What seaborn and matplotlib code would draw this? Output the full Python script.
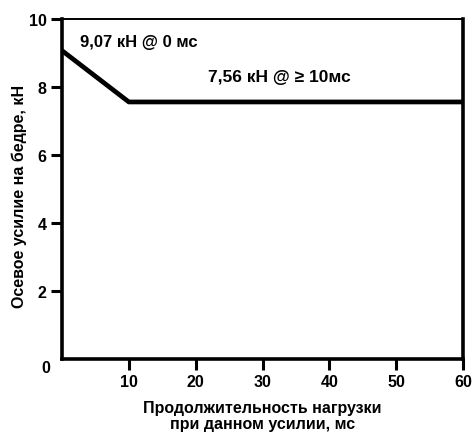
import matplotlib
matplotlib.use("Agg")
import matplotlib.pyplot as plt
import matplotlib.transforms as mtransforms
import seaborn as sns
import pandas as pd

duration_ms = [0, 10, 60]
force_kn = [9.07, 7.56, 7.56]
x_ticks = [10, 20, 30, 40, 50, 60]
y_ticks = [0, 2, 4, 6, 8, 10]
label_start = "9,07 кН @ 0 мс"
label_plateau = "7,56 кН @ ≥ 10мс"
x_label = "Продолжительность нагрузки\nпри данном усилии, мс"
y_label = "Осевое усилие на бедре, кН"

sns.set_theme(style="white")
plt.rcParams['font.family'] = ['Liberation Sans Narrow', 'Liberation Sans', 'DejaVu Sans']
plt.rcParams['font.weight'] = 'bold'
for k in ['text.color', 'axes.labelcolor', 'xtick.color', 'ytick.color']:
    plt.rcParams[k] = 'black'

df = pd.DataFrame({"t": duration_ms, "f": force_kn})

fig = plt.figure(figsize=(4.75, 4.35), dpi=100)
ax = fig.add_axes([62/475, 1-360/435, (463-62)/475, (360-20)/435])
sns.lineplot(data=df, x="t", y="f", ax=ax, color="black", linewidth=3.4)

ax.set_xlim(0, 60)
ax.set_ylim(0, 10)
ax.set_xticks(x_ticks)
ax.set_xticklabels([str(v) for v in x_ticks], fontsize=11.5, fontweight='bold')
ax.set_yticks(y_ticks)
ax.set_yticklabels([str(v) for v in y_ticks], fontsize=11.5, fontweight='bold')
ax.tick_params(axis='both', direction='out', length=8, width=2.2, color='black',
               labelcolor='black', bottom=True, left=True, pad=3)

# the "0" label sits slightly below the corner, without a tick mark
ax.yaxis.get_major_ticks()[0].tick1line.set_visible(False)
zero_lbl = ax.get_yticklabels()[0]
zero_lbl.set_transform(zero_lbl.get_transform() +
                       mtransforms.ScaledTranslation(4/100, -7/100, fig.dpi_scale_trans))

for side in ['left', 'bottom', 'right']:
    ax.spines[side].set_linewidth(2.6)
    ax.spines[side].set_color('black')
ax.spines['top'].set_linewidth(1.4)
ax.spines['top'].set_color('black')

ax.set_xlabel(x_label, fontsize=11.5, fontweight='bold', linespacing=1.05, color='black')
ax.xaxis.set_label_coords(0.5, (360-401)/340)
ax.set_ylabel(y_label, fontsize=11.5, fontweight='bold', color='black')
ax.yaxis.set_label_coords((27-62)/401, (360-196)/340)

ax.text(2.7, 9.35, label_start, fontsize=12, fontweight='bold', va='center', ha='left')
ax.text(21.9, 8.3, label_plateau, fontsize=12.5, fontweight='bold', va='center', ha='left')

fig.savefig("out.png", dpi=100)
